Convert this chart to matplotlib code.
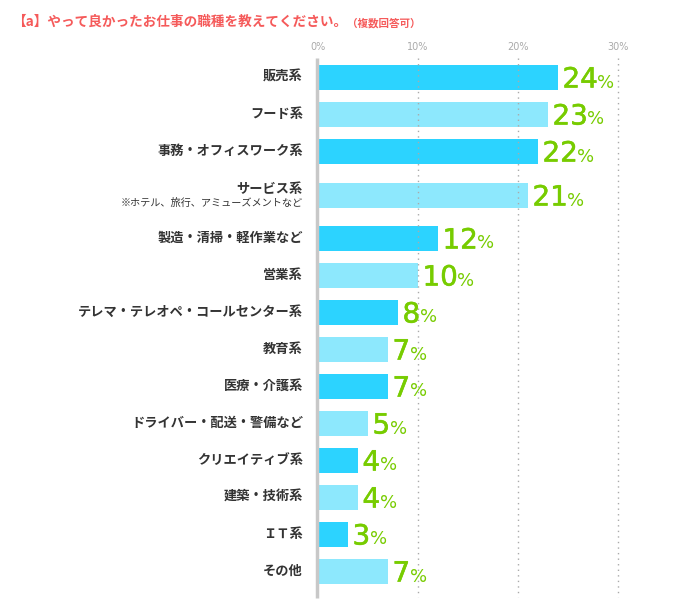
import matplotlib
matplotlib.use("Agg")
import matplotlib.pyplot as plt
import matplotlib.patheffects as pe
import numpy as np

plt.rcParams['font.family'] = ['Noto Sans CJK JP', 'DejaVu Sans']

# === Data ===
categories = ['販売系', 'フード系', '事務・オフィスワーク系', 'サービス系', '製造・清掃・軽作業など',
              '営業系', 'テレマ・テレオペ・コールセンター系', '教育系', '医療・介護系',
              'ドライバー・配送・警備など', 'クリエイティブ系', '建築・技術系', 'ＩＴ系', 'その他']
sub_labels = {'サービス系': '※ホテル、旅行、アミューズメントなど'}
values = [24, 23, 22, 21, 12, 10, 8, 7, 7, 5, 4, 4, 3, 7]
ticks = [0, 10, 20, 30]
tick_labels = ['0%', '10%', '20%', '30%']
title = '【a】やって良かったお仕事の職種を教えてください。'
title_note = '（複数回答可）'

dark = '#2cd3ff'
light = '#8de8fd'
green = '#77cc00'

# === Row positions (pixel units, the two-line row gets extra room) ===
ys = []
y = 77
for c in categories:
    if c in sub_labels:
        y += 7
    ys.append(y)
    y += 37
    if c in sub_labels:
        y += 6

fig = plt.figure(figsize=(6.92, 6.07), dpi=100)
W, H = 692, 607
ax = fig.add_axes([318 / W, 0, 1 - 318 / W, 1])
ax.set_xlim(0, (W - 318) / 10)
ax.set_ylim(H, 0)
ax.axis('off')

# grid
for t in ticks[1:]:
    ax.vlines(t, 58, 597, colors='#aaaaaa', linestyles=(0, (1, 3)), linewidth=1)
ax.vlines(-0.15, 58, 598, colors='#c8c8c8', linewidth=2.5, clip_on=False)
for t, lab in zip(ticks, tick_labels):
    ax.text(t, 47, lab, ha='center', va='center', fontsize=7, color='#aaaaaa',
            family=['DejaVu Sans'])

colors = [dark if i % 2 == 0 else light for i in range(len(values))]
ax.barh(ys, values, height=25, color=colors, linewidth=0)

thick = [pe.withStroke(linewidth=0.4, foreground=green)]
nums = []
for yy, v, c in zip(ys, values, categories):
    if c in sub_labels:
        ax.text(-1.5, yy - 6, c, ha='right', va='center', fontsize=9.5,
                fontweight='bold', color='#333333', clip_on=False)
        ax.text(-1.5, yy + 8, sub_labels[c], ha='right', va='center', fontsize=7.3,
                color='#333333', clip_on=False)
    else:
        ax.text(-1.5, yy, c, ha='right', va='center', fontsize=9.5,
                fontweight='bold', color='#333333', clip_on=False)
    num = ax.text(v + 0.45, yy + 10.5, str(v), ha='left', va='baseline', fontsize=20,
                  color=green, family=['DejaVu Sans'], path_effects=thick)
    nums.append((num, yy))

# title
t1 = fig.text(12 / W, 1 - 22 / H, title, ha='left', va='center', fontsize=9.8,
              fontweight='bold', color='#f55a5a')
fig.canvas.draw()
bb = t1.get_window_extent()
fig.text(bb.x1 / W, 1 - 23 / H, title_note, ha='left', va='center', fontsize=7.6,
         fontweight='bold', color='#f55a5a')

# percent signs right after the numbers, same baseline
inv = ax.transData.inverted()
for num, yy in nums:
    x1 = inv.transform(num.get_window_extent().p1)[0]
    ax.text(x1 - 0.05, yy + 10.5, '%', ha='left', va='baseline', fontsize=13,
            color=green, family=['DejaVu Sans'])

fig.savefig('out.png', dpi=100)
